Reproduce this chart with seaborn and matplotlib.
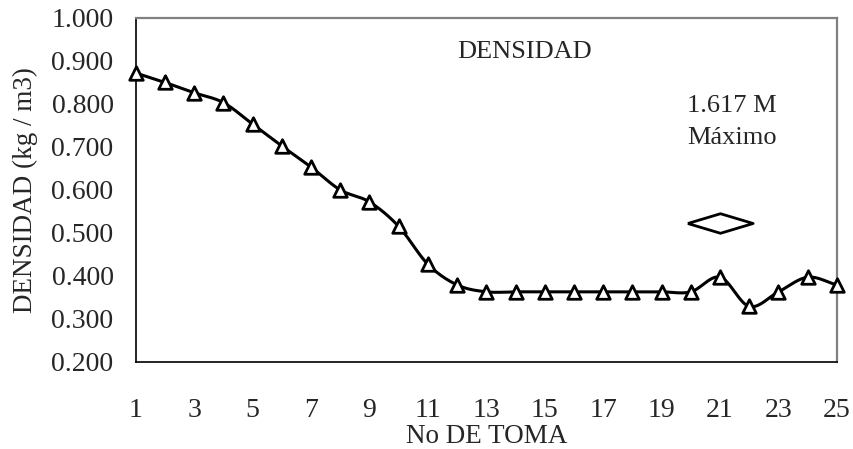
import numpy as np
import pandas as pd
import matplotlib
matplotlib.use("Agg")
import matplotlib.pyplot as plt
import seaborn as sns

# Densidad por número de toma
tomas = list(range(1, 26))
densidad = [0.872, 0.850, 0.826, 0.803, 0.753, 0.702, 0.653, 0.600, 0.572,
            0.515, 0.427, 0.379, 0.363, 0.363, 0.363, 0.363, 0.363, 0.363,
            0.363, 0.363, 0.397, 0.329, 0.363, 0.397, 0.379]

# Marcador del máximo
maximo_x = [21]
maximo_y = [0.522]
maximo_texto = ["1.617 M", "Máximo"]

y_ticks = [0.2, 0.3, 0.4, 0.5, 0.6, 0.7, 0.8, 0.9, 1.0]
x_ticks = list(range(1, 26, 2))


def suavizar(x, y, n=20):
    """Curva suavizada tipo Catmull-Rom que pasa por todos los puntos."""
    x = np.asarray(x, float)
    y = np.asarray(y, float)
    px = np.concatenate([[2 * x[0] - x[1]], x, [2 * x[-1] - x[-2]]])
    py = np.concatenate([[2 * y[0] - y[1]], y, [2 * y[-1] - y[-2]]])
    xs, ys = [], []
    t = np.linspace(0, 1, n, endpoint=False)
    for i in range(1, len(px) - 2):
        for arr, out in ((px, xs), (py, ys)):
            p0, p1, p2, p3 = arr[i - 1], arr[i], arr[i + 1], arr[i + 2]
            out.extend(0.5 * ((2 * p1) + (-p0 + p2) * t
                              + (2 * p0 - 5 * p1 + 4 * p2 - p3) * t ** 2
                              + (-p0 + 3 * p1 - 3 * p2 + p3) * t ** 3))
    xs.append(x[-1])
    ys.append(y[-1])
    return np.array(xs), np.array(ys)


sns.set_style("white")
plt.rcParams["font.family"] = ["Liberation Serif", "DejaVu Serif"]
plt.rcParams["font.size"] = 19.5

fig = plt.figure(figsize=(8.54, 4.49), dpi=100)
ax = fig.add_axes([0.159, 0.194, 0.821, 0.766])

df = pd.DataFrame({"toma": tomas, "densidad": densidad})
cx, cy = suavizar(tomas, densidad)
curva = pd.DataFrame({"toma": cx, "densidad": cy})

sns.lineplot(data=curva, x="toma", y="densidad", ax=ax, color="black",
             linewidth=2.2, sort=False, estimator=None)
sns.scatterplot(data=df, x="toma", y="densidad", ax=ax, marker="^", s=95,
                facecolor="white", edgecolor="black", linewidth=2.0,
                zorder=5, clip_on=False)

rombo = [(-1, 0), (0, 0.3), (1, 0), (0, -0.3), (-1, 0)]
ax.plot(maximo_x, maximo_y, linestyle="none", marker=rombo, markersize=47,
        markerfacecolor="white", markeredgecolor="black",
        markeredgewidth=2.0, zorder=5)

ax.text(14.3, 0.920, "DENSIDAD", ha="center", va="center", fontsize=19)
ax.text(21.4, 0.795, maximo_texto[0], ha="center", va="center", fontsize=19)
ax.text(21.4, 0.721, maximo_texto[1], ha="center", va="center", fontsize=19)

ax.set_xlim(1, 25)
ax.set_ylim(0.2, 1.0)
ax.set_xticks(x_ticks)
ax.set_yticks(y_ticks)
ax.set_yticklabels([f"{v:.3f}" for v in y_ticks])
ax.set_xlabel("No DE TOMA", labelpad=1)
ax.set_ylabel("DENSIDAD (kg / m3)", labelpad=10)

ax.tick_params(axis="both", direction="out", length=6, width=1,
               color="black", labelsize=20)
ax.tick_params(axis="x", pad=20)
ax.tick_params(axis="y", pad=10)

for lado in ("left", "bottom"):
    ax.spines[lado].set_color("black")
    ax.spines[lado].set_linewidth(1.2)
for lado in ("top", "right"):
    ax.spines[lado].set_color("#808080")
    ax.spines[lado].set_linewidth(1.6)

fig.savefig("out.png", dpi=100, facecolor="white")
